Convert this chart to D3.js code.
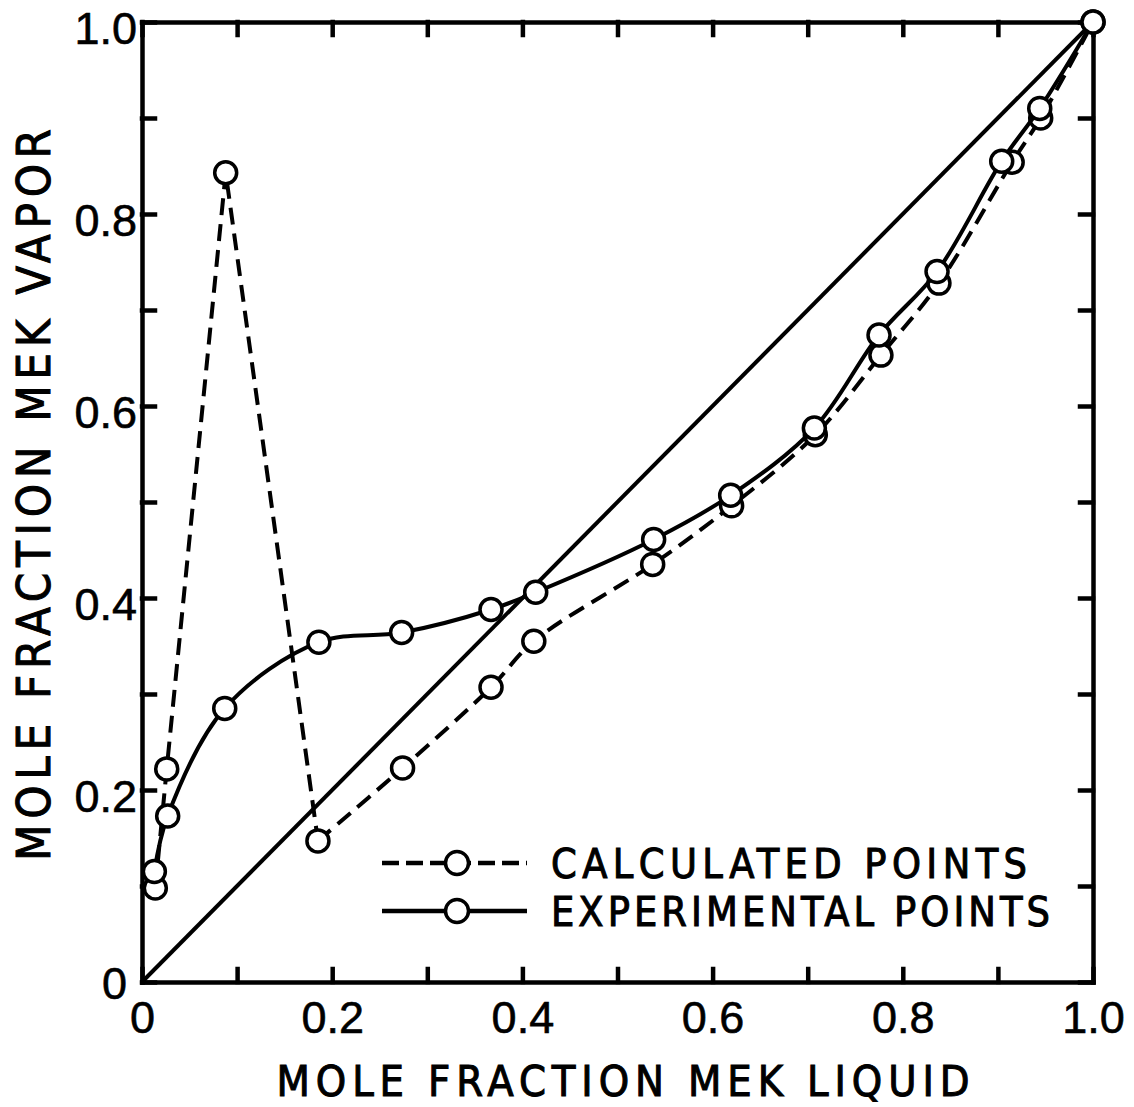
<!doctype html>
<html>
<head>
<meta charset="utf-8">
<script src="https://cdn.jsdelivr.net/npm/d3@7"></script>
<style>
  body { margin: 0; background-color: #fff; }
  .axis path, .axis line { stroke: #000; stroke-width: 4.5px; stroke-linecap: square; }
  .axis text { font-family: "Liberation Sans", Arial, sans-serif; font-size: 45px; fill: #000; stroke: #000; stroke-width: 0.6px; }
  .title { font-family: "DejaVu Sans Condensed", "DejaVu Sans", sans-serif; fill: #000; stroke: #000; stroke-width: 1px; }
</style>
</head>
<body>
<script>
  var width = 1134,
      height = 1107;

  // tick positions and labels (labels only every 0.2)
  var xTicks = [0, 0.1, 0.2, 0.3, 0.4, 0.5, 0.6, 0.7, 0.8, 0.9, 1.0];
  var xTickLabels = ['0', '', '0.2', '', '0.4', '', '0.6', '', '0.8', '', '1.0'];
  var yTicks = [0, 0.1, 0.2, 0.3, 0.4, 0.5, 0.6, 0.7, 0.8, 0.9, 1.0];
  var yTickLabels = ['0', '', '0.2', '', '0.4', '', '0.6', '', '0.8', '', '1.0'];

  // calculated points (dashed)
  var calcX = [0.014, 0.026, 0.088, 0.185, 0.274, 0.367, 0.412, 0.537, 0.620, 0.708, 0.777, 0.838, 0.915, 0.945, 1.0];
  var calcY = [0.098, 0.222, 0.843, 0.147, 0.223, 0.307, 0.355, 0.435, 0.496, 0.570, 0.653, 0.728, 0.854, 0.900, 1.0];

  // experimental points (solid)
  var expX = [0.013, 0.027, 0.087, 0.186, 0.273, 0.367, 0.414, 0.538, 0.619, 0.707, 0.775, 0.836, 0.904, 0.944, 1.0];
  var expY = [0.115, 0.173, 0.285, 0.354, 0.364, 0.388, 0.406, 0.461, 0.507, 0.577, 0.674, 0.740, 0.855, 0.910, 1.0];

  // x = y reference line
  var diagX = [0, 1];
  var diagY = [0, 1];

  var legendLabels = ['CALCULATED POINTS', 'EXPERIMENTAL POINTS'];
  var xTitle = 'MOLE FRACTION MEK LIQUID';
  var yTitle = 'MOLE FRACTION MEK VAPOR';

  var svg = d3.select('body').append('svg')
      .attr('width', width)
      .attr('height', height);

  var x = d3.scaleLinear().domain([0, 1]).range([142, 1093]);
  var y = d3.scaleLinear().domain([0, 1]).range([982, 22]);

  var toPts = function (xs, ys) {
    return xs.map(function (d, i) { return [d, ys[i]]; });
  };

  // axes, ticks point inward on all four sides
  svg.append('g').attr('class', 'axis')
      .attr('transform', 'translate(0,' + y(0) + ')')
      .call(d3.axisBottom(x).tickValues(xTicks).tickSize(-13).tickSizeOuter(0).tickPadding(19)
        .tickFormat(function (d, i) { return xTickLabels[i]; }));

  var left = svg.append('g').attr('class', 'axis')
      .attr('transform', 'translate(' + x(0) + ',0)')
      .call(d3.axisLeft(y).tickValues(yTicks).tickSize(-13).tickSizeOuter(0).tickPadding(5)
        .tickFormat(function (d, i) { return yTickLabels[i]; }));
  left.selectAll('text').attr('dy', '0.47em');
  // the origin label sits a little lower-left, clear of the x "0"
  left.selectAll('text').filter(function (d) { return d === 0; })
      .attr('x', -15).attr('dy', '0.36em');

  svg.append('g').attr('class', 'axis')
      .attr('transform', 'translate(0,' + y(1) + ')')
      .call(d3.axisTop(x).tickValues(xTicks).tickSize(-13).tickSizeOuter(0).tickFormat(''));

  svg.append('g').attr('class', 'axis')
      .attr('transform', 'translate(' + x(1) + ',0)')
      .call(d3.axisRight(y).tickValues(yTicks).tickSize(-13).tickSizeOuter(0).tickFormat(''));

  var line = d3.line()
      .x(function (d) { return x(d[0]); })
      .y(function (d) { return y(d[1]); });

  var smooth = d3.line()
      .x(function (d) { return x(d[0]); })
      .y(function (d) { return y(d[1]); })
      .curve(d3.curveCatmullRom.alpha(0.5));

  // diagonal
  svg.append('path')
      .attr('d', line(toPts(diagX, diagY)))
      .attr('fill', 'none').attr('stroke', '#000').attr('stroke-width', 4);

  // calculated: straight spike, then smooth
  var calc = toPts(calcX, calcY);
  svg.append('path')
      .attr('d', line(calc.slice(0, 4)) + smooth(calc.slice(3)))
      .attr('fill', 'none').attr('stroke', '#000').attr('stroke-width', 4)
      .attr('stroke-dasharray', '17,9');

  svg.selectAll('circle.calc')
      .data(calc)
    .enter().append('circle')
      .attr('class', 'calc')
      .attr('cx', function (d) { return x(d[0]); })
      .attr('cy', function (d) { return y(d[1]); })
      .attr('r', 11)
      .attr('fill', '#fff').attr('stroke', '#000').attr('stroke-width', 3.5);

  var exp = toPts(expX, expY);
  svg.append('path')
      .attr('d', smooth(exp))
      .attr('fill', 'none').attr('stroke', '#000').attr('stroke-width', 4);

  svg.selectAll('circle.exp')
      .data(exp)
    .enter().append('circle')
      .attr('class', 'exp')
      .attr('cx', function (d) { return x(d[0]); })
      .attr('cy', function (d) { return y(d[1]); })
      .attr('r', 11)
      .attr('fill', '#fff').attr('stroke', '#000').attr('stroke-width', 3.5);

  // legend
  var legend = svg.append('g');
  var rows = legend.selectAll('g')
      .data(legendLabels)
    .enter().append('g')
      .attr('transform', function (d, i) { return 'translate(382,' + (863 + i * 48) + ')'; });

  rows.append('line')
      .attr('x1', 0).attr('x2', 145)
      .attr('stroke', '#000').attr('stroke-width', 4.5)
      .attr('stroke-dasharray', function (d, i) { return i === 0 ? '17,7' : null; });

  rows.append('circle')
      .attr('cx', 75).attr('r', 11.5)
      .attr('fill', '#fff').attr('stroke', '#000').attr('stroke-width', 3.5);

  rows.append('text')
      .attr('class', 'title')
      .attr('x', 169).attr('y', 15)
      .attr('font-size', 41)
      .attr('textLength', function (d, i) { return i === 0 ? 476 : 499; })
      .attr('lengthAdjust', 'spacing')
      .text(function (d) { return d; });

  // axis titles
  svg.append('text')
      .attr('class', 'title')
      .attr('x', 623).attr('y', 1096)
      .attr('text-anchor', 'middle')
      .attr('font-size', 43)
      .attr('textLength', 693).attr('lengthAdjust', 'spacing')
      .text(xTitle);

  svg.append('text')
      .attr('class', 'title')
      .attr('transform', 'translate(50,495) rotate(-90)')
      .attr('text-anchor', 'middle')
      .attr('font-size', 47)
      .attr('textLength', 732).attr('lengthAdjust', 'spacing')
      .text(yTitle);
</script>
</body>
</html>
